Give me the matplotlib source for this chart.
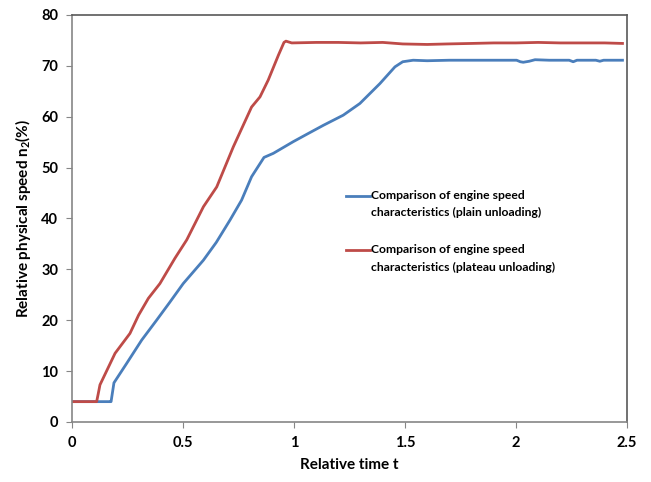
import numpy as np
import matplotlib
matplotlib.use('Agg')
import matplotlib.pyplot as plt

plt.rcParams['font.family'] = ['Lato', 'DejaVu Sans']
plt.rcParams['mathtext.fontset'] = 'custom'
plt.rcParams['mathtext.rm'] = 'Lato'
plt.rcParams['mathtext.bf'] = 'Lato:bold'

# plain unloading (blue)
t_plain = [0.0, 0.17, 0.176, 0.189, 0.246, 0.314, 0.381, 0.44, 0.501, 0.592, 0.65, 0.712,
           0.764, 0.809, 0.865, 0.907, 0.997, 1.06, 1.132, 1.222, 1.297, 1.387, 1.455,
           1.49, 1.537, 1.6, 1.7, 1.8, 1.9, 2.003, 2.02, 2.033, 2.06, 2.086, 2.15, 2.24,
           2.258, 2.275, 2.36, 2.378, 2.395, 2.48]
v_plain = [4.0, 4.0, 4.0, 7.7, 11.5, 16.1, 20.0, 23.5, 27.2, 31.8, 35.3, 39.7,
           43.6, 48.2, 52.0, 52.8, 55.1, 56.6, 58.3, 60.3, 62.6, 66.5, 69.8,
           70.8, 71.1, 71.0, 71.1, 71.1, 71.1, 71.1, 70.8, 70.7, 70.9, 71.2, 71.1, 71.1,
           70.8, 71.1, 71.1, 70.9, 71.1, 71.1]

# plateau unloading (red)
t_plat = [0.0, 0.111, 0.118, 0.126, 0.194, 0.261, 0.3, 0.344, 0.396, 0.464, 0.517, 0.592,
          0.652, 0.727, 0.809, 0.847, 0.884, 0.93, 0.955, 0.964, 0.99, 1.1, 1.2, 1.3,
          1.4, 1.49, 1.6, 1.69, 1.8, 1.9, 2.0, 2.1, 2.2, 2.3, 2.4, 2.48]
v_plat = [4.0, 4.0, 5.5, 7.3, 13.5, 17.4, 21.0, 24.3, 27.2, 32.2, 35.8, 42.3,
          46.2, 54.1, 61.9, 63.9, 67.2, 72.1, 74.6, 74.85, 74.5, 74.6, 74.6, 74.5,
          74.6, 74.3, 74.2, 74.3, 74.4, 74.5, 74.5, 74.6, 74.5, 74.5, 74.5, 74.4]

labels_plain = ['Comparison of engine speed', 'characteristics (plain unloading)']
labels_plat = ['Comparison of engine speed', 'characteristics (plateau unloading)']

c_plain = '#4A7EBB'
c_plat = '#BE4B48'

fig = plt.figure(figsize=(6.51, 4.82), dpi=100)
ax = fig.add_axes([0.1106, 0.1245, 0.8524, 0.8445])

ax.plot(t_plain, v_plain, color=c_plain, lw=2.0)
ax.plot(t_plat, v_plat, color=c_plat, lw=2.0)

ax.set_xlim(0, 2.5)
ax.set_ylim(0, 80)
ax.set_xticks([0, 0.5, 1, 1.5, 2, 2.5])
ax.set_xticklabels(['0', '0.5', '1', '1.5', '2', '2.5'])
ax.set_yticks(range(0, 81, 10))

for lab in ax.get_xticklabels() + ax.get_yticklabels():
    lab.set_fontweight('bold')
    lab.set_fontsize(10.5)
ax.tick_params(direction='out', length=4, color='#868686', pad=6)

ax.spines['left'].set_color('#868686')
ax.spines['bottom'].set_color('#868686')
ax.spines['top'].set_color('#595959')
ax.spines['right'].set_color('#595959')
for s in ax.spines.values():
    s.set_linewidth(1.2)

ax.set_xlabel('Relative time t', fontsize=11, fontweight='bold', labelpad=6)
ax.set_ylabel(r'Relative physical speed n$_\mathbf{2}$(%)', fontsize=11,
              fontweight='bold', labelpad=6)

# hand-made legend: handle sits level with the first text line
legend_entries = [(c_plain, labels_plain, 0.5553), (c_plat, labels_plat, 0.4226)]
for col, lines, y0 in legend_entries:
    ax.plot([0.4937, 0.5369], [y0, y0], color=col, lw=2.0, transform=ax.transAxes,
            clip_on=False)
    for k, txt in enumerate(lines):
        ax.text(0.539, y0 - k * 0.0418, txt, transform=ax.transAxes, ha='left',
                va='center', fontsize=8.7, fontweight='bold')

fig.savefig('out.png', dpi=100)
